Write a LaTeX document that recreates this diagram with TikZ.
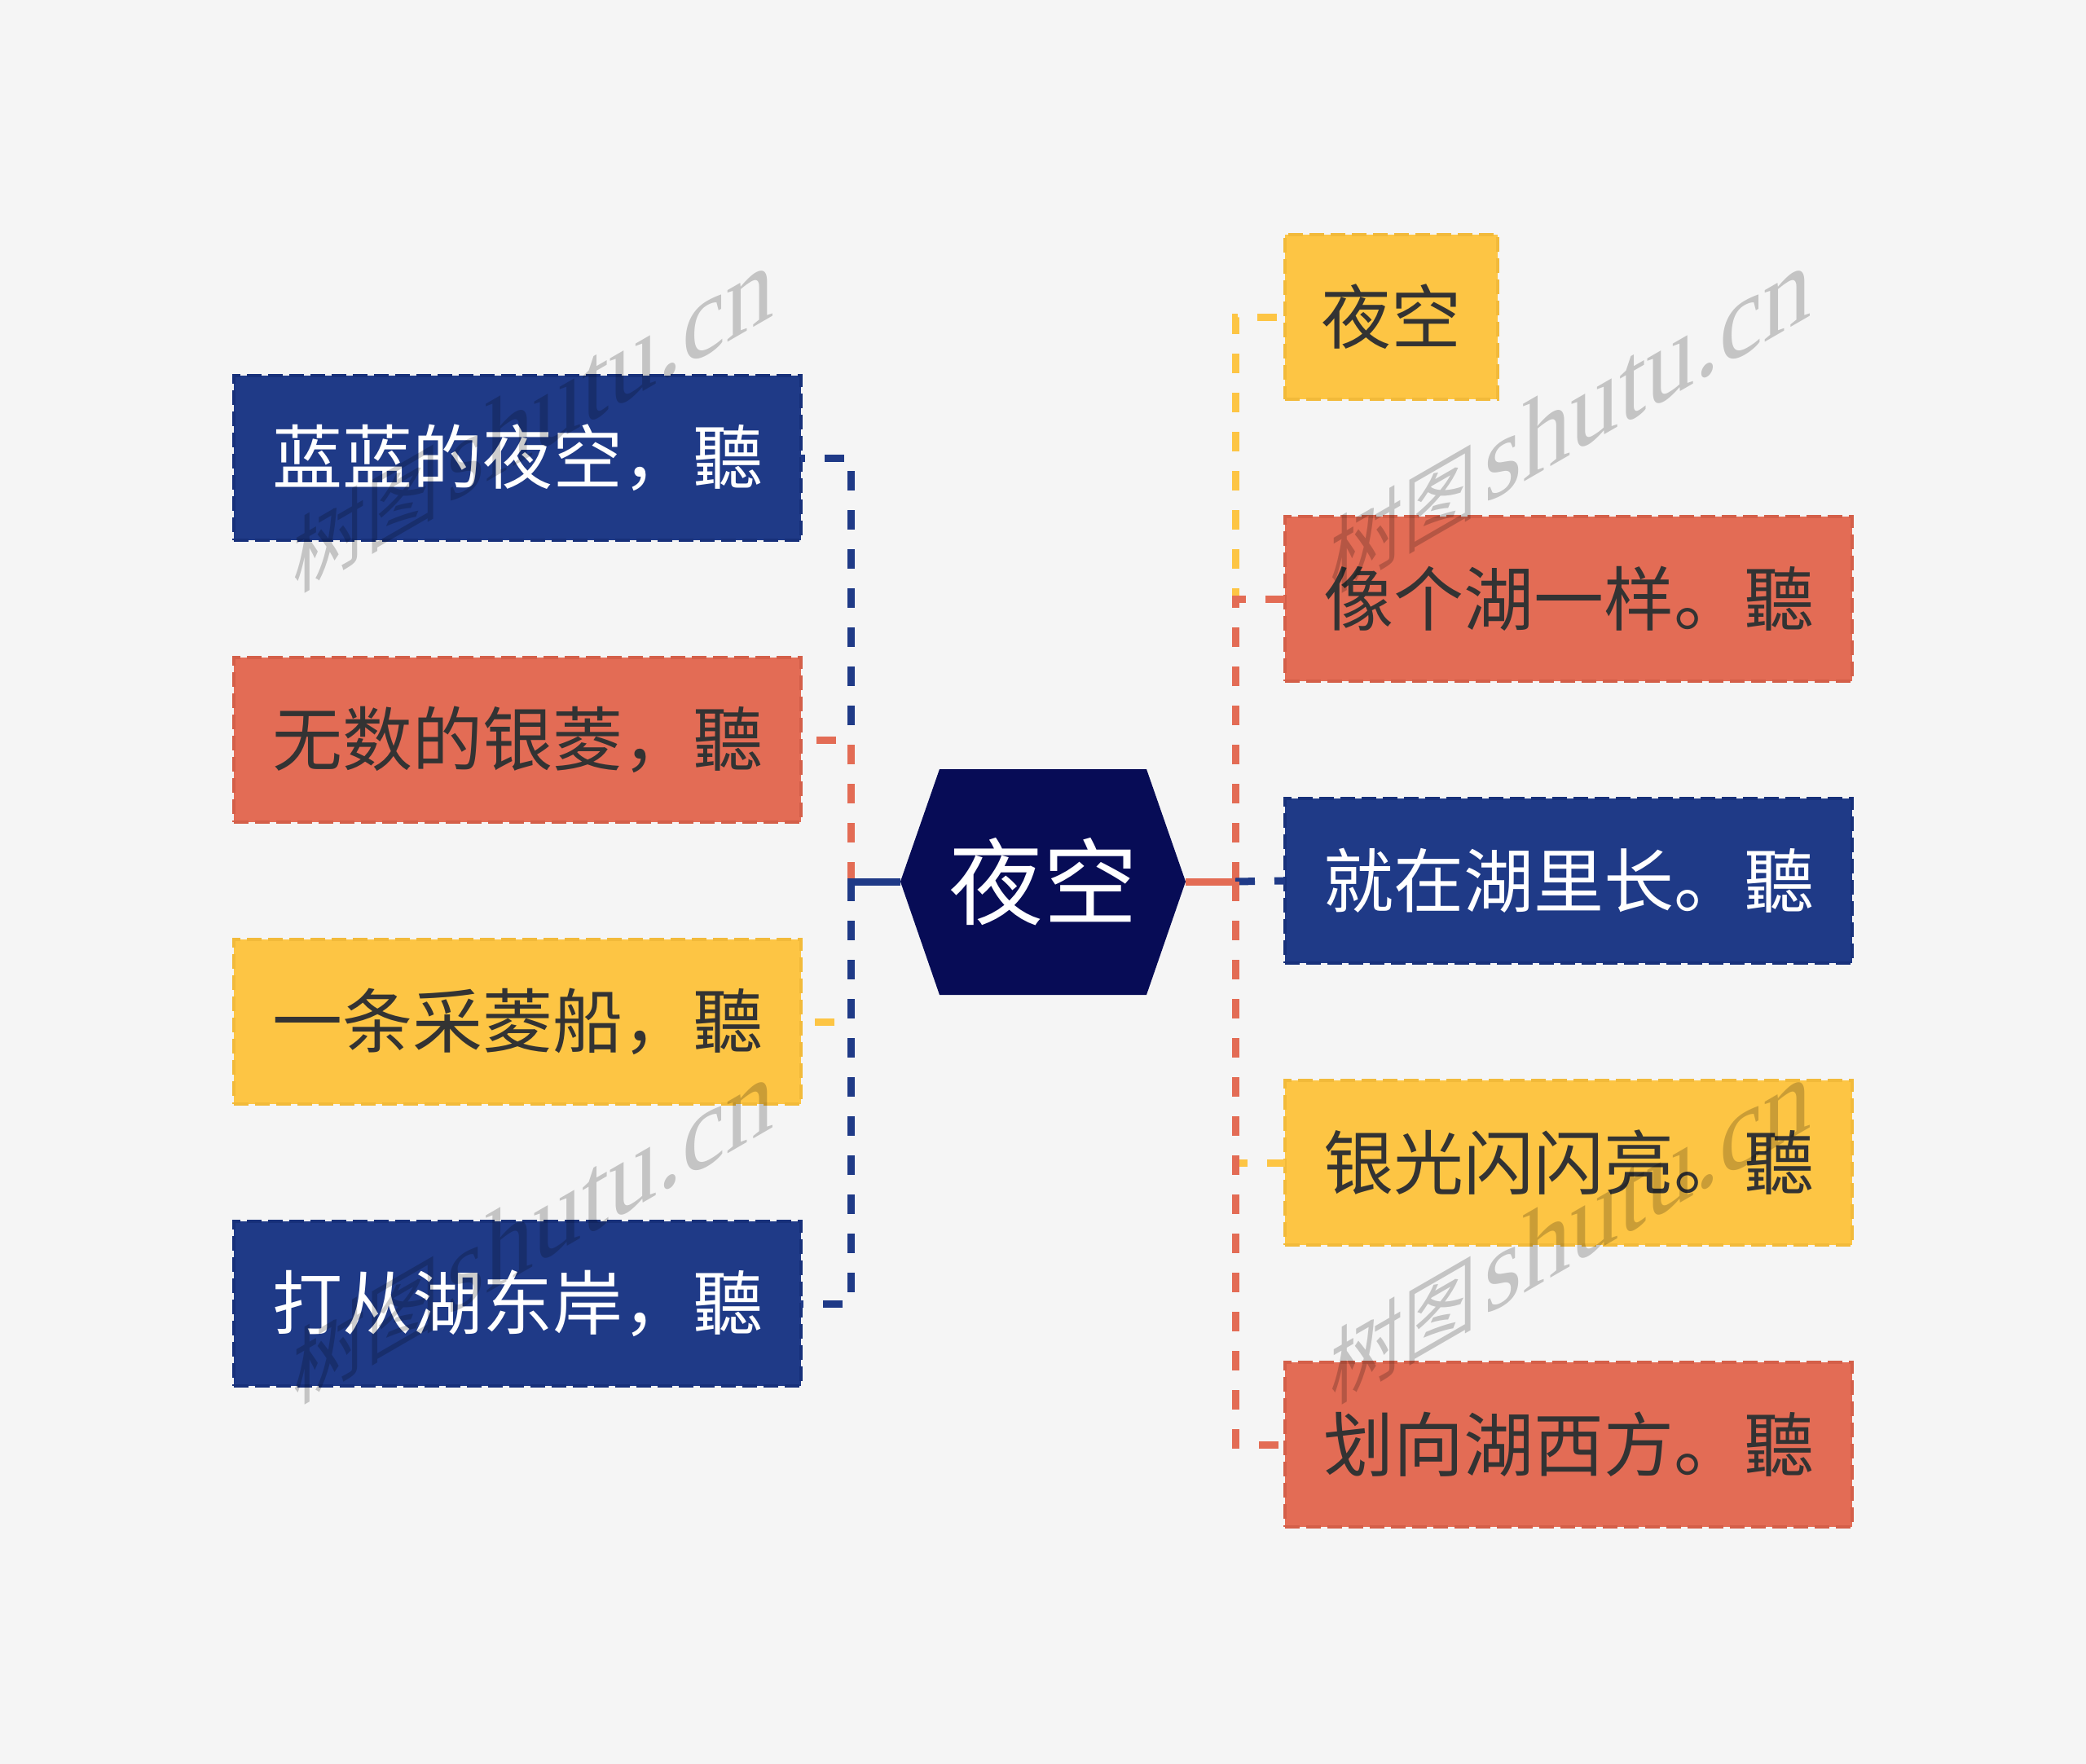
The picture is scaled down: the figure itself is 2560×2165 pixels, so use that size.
\documentclass[tikz,border=0pt]{standalone}
\usepackage{fontspec}
\newfontfamily\cjk{Noto Sans CJK SC}
\newfontfamily\wmfont{Liberation Serif}
\usetikzlibrary{calc}

\definecolor{bg}{HTML}{F5F5F5}
\definecolor{cBlue}{HTML}{1F3A87}
\definecolor{cBlueB}{HTML}{17307A}
\definecolor{cOrange}{HTML}{E36C55}
\definecolor{cOrangeB}{HTML}{D45F49}
\definecolor{cYellow}{HTML}{FDC544}
\definecolor{cYellowB}{HTML}{F2BA3A}
\definecolor{cNavy}{HTML}{070C56}
\definecolor{cText}{HTML}{333333}

\tikzset{
  box/.style={rectangle, minimum width=696pt, minimum height=202pt,
    inner sep=0pt, outer sep=0pt, line width=4pt,
    dash pattern=on 18pt off 8pt,
    font=\cjk\fontsize{86}{100}\selectfont, align=center},
  bluebox/.style={box, fill=cBlue, draw=cBlueB, text=white},
  orangebox/.style={box, fill=cOrange, draw=cOrangeB, text=cText},
  yellowbox/.style={box, fill=cYellow, draw=cYellowB, text=cText},
  conn/.style={line width=9pt, dash pattern=on 24pt off 24pt},
  trunk/.style={line width=9pt},
  rootlabel/.style={font=\cjk\fontsize{116}{130}\selectfont, text=white,
    inner sep=0pt, outer sep=0pt},
  wm/.style={text=black, text opacity=0.2, inner sep=0pt, transform shape}
}
\newcommand{\wmtext}{{\cjk\fontsize{104}{120}\selectfont 树图}\hspace{10pt}{\wmfont\fontsize{138}{150}\selectfont shutu.cn}}

\begin{document}
\begin{tikzpicture}[x=1pt,y=-1pt]
\useasboundingbox (0,0) rectangle (2560,2165);
\fill[bg] (0,0) rectangle (2560,2165);

% central hexagon
\coordinate (hexL) at (1105,1082);
\coordinate (hexR) at (1455,1082);
\fill[cNavy] (1153,944) -- (1407,944) -- (hexR) -- (1407,1221)
  -- (1153,1221) -- (hexL) -- cycle;
\node[rootlabel] (root) at (1280,1082) {夜空};

% left nodes
\node[bluebox,   anchor=east] (l1) at (983,562)  {蓝蓝的夜空，聽};
\node[orangebox, anchor=east] (l2) at (983,908)  {无数的银菱，聽};
\node[yellowbox, anchor=east] (l3) at (983,1254) {一条采菱船，聽};
\node[bluebox,   anchor=east] (l4) at (983,1600) {打从湖东岸，聽};

% right nodes
\node[yellowbox, minimum width=261pt, anchor=west] (r1) at (1577,389) {夜空};
\node[orangebox, anchor=west] (r2) at (1577,735)  {像个湖一样。聽};
\node[bluebox,   anchor=west] (r3) at (1577,1081) {就在湖里长。聽};
\node[yellowbox, anchor=west] (r4) at (1577,1427) {银光闪闪亮。聽};
\node[orangebox, anchor=west] (r5) at (1577,1773) {划向湖西方。聽};

% left connectors
\coordinate (Ljoin) at (1044,1082);
\draw[conn, cBlue]   (Ljoin) |- (l1.east);
\draw[conn, cOrange] (Ljoin) |- (l2.east);
\draw[conn, cYellow] (Ljoin) |- (l3.east);
\draw[conn, cBlue]   (Ljoin) |- (l4.east);
\draw[trunk, cBlue]  (hexL) -- ([xshift=-4.5pt]Ljoin);

% right connectors
\coordinate (Rjoin) at (1516,1082);
\draw[trunk, cOrange] (hexR) -- (Rjoin);
\draw[conn, cYellow] (Rjoin) |- (r1.west);
\draw[conn, cOrange] (Rjoin) |- (r2.west);
\draw[conn, cBlue]   (Rjoin) -- (r3.west);
\draw[conn, cYellow] (Rjoin) |- (r4.west);
\draw[conn, cOrange] (Rjoin) |- (r5.west);

% watermarks
\begin{scope}[shift={(655,514)}, cm={0.866,0.5,0,1,(0,0)}]
  \node[wm] (wm1) at (0,0) {\wmtext};
\end{scope}
\begin{scope}[shift={(1928,514)}, cm={0.866,0.5,0,1,(0,0)}]
  \node[wm] (wm2) at (0,0) {\wmtext};
\end{scope}
\begin{scope}[shift={(655,1510)}, cm={0.866,0.5,0,1,(0,0)}]
  \node[wm] (wm3) at (0,0) {\wmtext};
\end{scope}
\begin{scope}[shift={(1928,1510)}, cm={0.866,0.5,0,1,(0,0)}]
  \node[wm] (wm4) at (0,0) {\wmtext};
\end{scope}
\end{tikzpicture}
\end{document}
